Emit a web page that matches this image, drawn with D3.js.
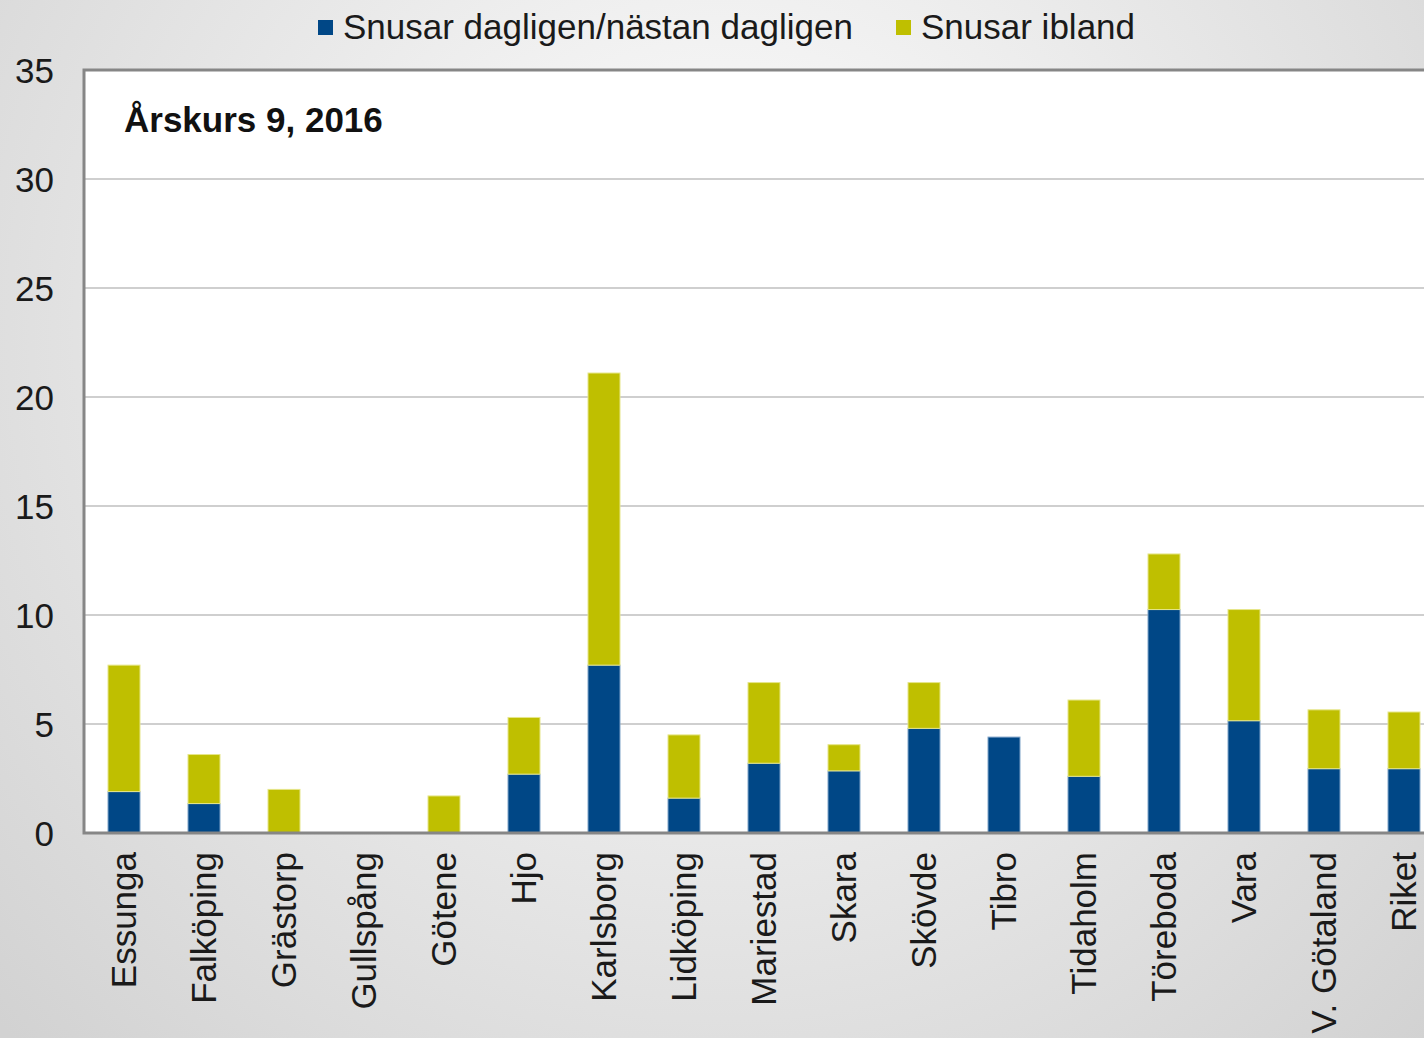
<!DOCTYPE html>
<html>
<head>
<meta charset="utf-8">
<script src="https://cdn.jsdelivr.net/npm/d3@7"></script>
<style>
  html, body { margin: 0; padding: 0; overflow: hidden; }
  svg { display: block; }
  text { font-family: Arial, "Liberation Sans", sans-serif; }
</style>
</head>
<body>
<svg id="chart" width="1424" height="1038"></svg>
<script>
const categories = ["Essunga","Falköping","Grästorp","Gullspång","Götene","Hjo","Karlsborg","Lidköping","Mariestad","Skara","Skövde","Tibro","Tidaholm","Töreboda","Vara","V. Götaland","Riket"];
const daily  = [1.9, 1.35, 0, 0, 0, 2.7, 7.7, 1.6, 3.2, 2.85, 4.8, 4.4, 2.6, 10.25, 5.15, 2.95, 2.95];
const sometimes = [5.8, 2.25, 2.0, 0, 1.7, 2.6, 13.4, 2.9, 3.7, 1.2, 2.1, 0, 3.5, 2.55, 5.1, 2.7, 2.6];
const seriesNames = ["Snusar dagligen/nästan dagligen", "Snusar ibland"];
const yTicks = [0, 5, 10, 15, 20, 25, 30, 35];
const title = "Årskurs 9, 2016";

const colors = ["#004786", "#bfbf00"];
const strokes = ["#7fa3c8", "#e6e68a"];

const svg = d3.select("#chart");
const W = 1424, H = 1038;

// background radial gradient
const defs = svg.append("defs");
const rg = defs.append("radialGradient").attr("id", "bg")
  .attr("gradientUnits", "userSpaceOnUse")
  .attr("cx", 720).attr("cy", 330).attr("r", 1000);
rg.append("stop").attr("offset", "0%").attr("stop-color", "#ffffff");
rg.append("stop").attr("offset", "100%").attr("stop-color", "#d2d2d2");
svg.append("rect").attr("width", W).attr("height", H).attr("fill", "url(#bg)");

const margin = { left: 84, top: 70, bottom: 833 };
const step = 80;
const plotRight = margin.left + step * categories.length;

const x = d3.scaleBand().domain(categories).range([margin.left, plotRight]).paddingInner(0.6).paddingOuter(0.3);
const y = d3.scaleLinear().domain([0, 35]).range([margin.bottom, margin.top]);

// plot area
svg.append("rect")
  .attr("x", margin.left).attr("y", margin.top)
  .attr("width", plotRight - margin.left).attr("height", margin.bottom - margin.top)
  .attr("fill", "#ffffff");

// gridlines
svg.append("g").selectAll("line").data(yTicks.filter(d => d > 0 && d < 35)).join("line")
  .attr("x1", margin.left).attr("x2", plotRight)
  .attr("y1", d => y(d)).attr("y2", d => y(d))
  .attr("stroke", "#cfcfcf").attr("stroke-width", 2);

// stacked bars
const rows = categories.map((c, i) => ({ cat: c, s0: daily[i], s1: sometimes[i] }));
const stack = d3.stack().keys(["s0", "s1"])(rows);
svg.append("g").selectAll("g").data(stack).join("g")
  .attr("fill", (d, i) => colors[i])
  .attr("stroke", (d, i) => strokes[i])
  .attr("stroke-width", 1)
  .selectAll("rect").data(d => d.filter(p => p[1] - p[0] > 0)).join("rect")
  .attr("x", d => x(d.data.cat))
  .attr("width", x.bandwidth())
  .attr("y", d => y(d[1]))
  .attr("height", d => y(d[0]) - y(d[1]));

// frame
svg.append("path")
  .attr("d", `M${plotRight},${margin.top}H${margin.left}V${margin.bottom}H${plotRight}`)
  .attr("fill", "none").attr("stroke", "#868686").attr("stroke-width", 3);

// y axis labels
const yAxis = d3.axisLeft(y).tickValues(yTicks).tickSize(0).tickPadding(0);
const ya = svg.append("g").attr("transform", `translate(54,0)`).call(yAxis);
ya.select(".domain").remove();
ya.selectAll("text").attr("font-size", 35).attr("fill", "#1a1a1a")
  .attr("font-family", "Arial, 'Liberation Sans', sans-serif").attr("dy", "0.35em");

// x axis labels
const xAxis = d3.axisBottom(x).tickSize(0).tickPadding(0);
const xa = svg.append("g").attr("transform", `translate(0,${margin.bottom})`).call(xAxis);
xa.select(".domain").remove();
xa.selectAll("text")
  .attr("font-size", 35).attr("fill", "#1a1a1a")
  .attr("font-family", "Arial, 'Liberation Sans', sans-serif")
  .attr("text-anchor", "end")
  .attr("transform", "translate(0,19) rotate(-90)")
  .attr("x", 0).attr("y", 0).attr("dy", "0.35em");

// title
svg.append("text").attr("x", 124).attr("y", 132)
  .attr("font-size", 35).attr("font-weight", "bold").attr("fill", "#111")
  .text(title);

// legend
const legendX = [318, 896];
const lg = svg.append("g").selectAll("g").data(seriesNames).join("g")
  .attr("transform", (d, i) => `translate(${legendX[i]},0)`);
lg.append("rect").attr("x", 0).attr("y", 20).attr("width", 15).attr("height", 15)
  .attr("fill", (d, i) => colors[i]);
lg.append("text").attr("x", 25).attr("y", 39)
  .attr("font-size", 35).attr("fill", "#1a1a1a").text(d => d);
</script>
</body>
</html>
